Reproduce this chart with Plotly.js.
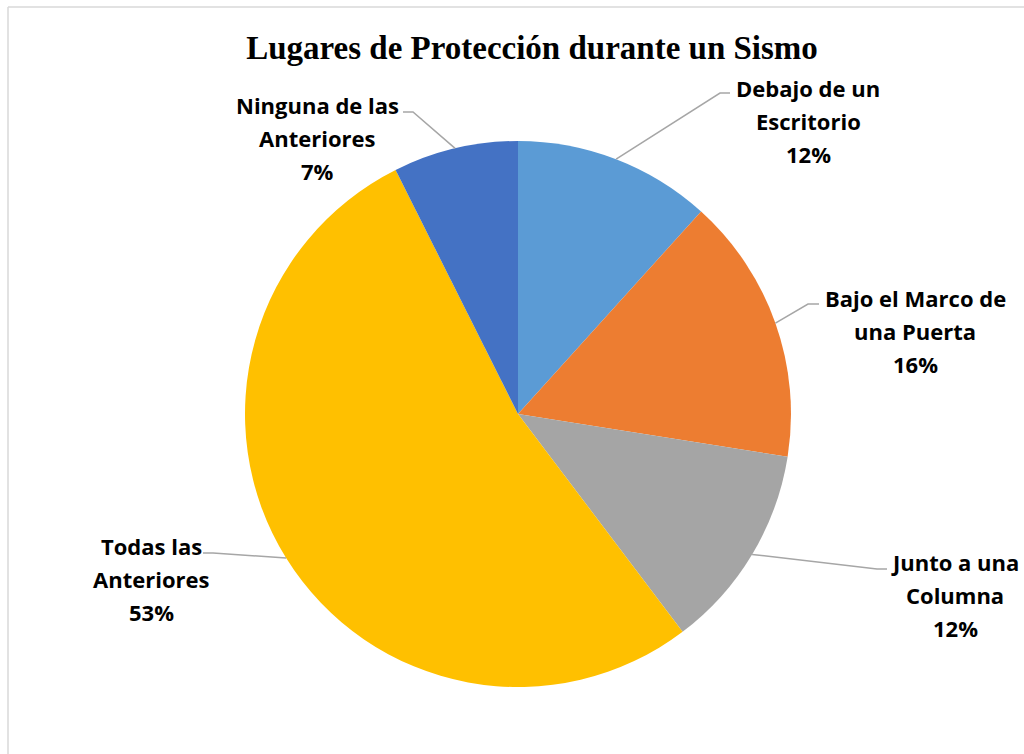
<!DOCTYPE html>
<html>
<head>
<meta charset="utf-8">
<script src="https://cdn.plot.ly/plotly-3.0.1.min.js"></script>
<style>
  html, body { margin: 0; padding: 0; background: #ffffff; }
  #chart { width: 1024px; height: 754px; }
</style>
</head>
<body>
<div id="chart"></div>
<script>
// ---- Data ----
const chartTitle = 'Lugares de Protección durante un Sismo';
const categories = [
  'Debajo de un<br>Escritorio',
  'Bajo el Marco de<br>una Puerta',
  'Junto a una<br>Columna',
  'Todas las<br>Anteriores',
  'Ninguna de las<br>Anteriores'
];
const values = [11.7, 15.8, 12.2, 52.9, 7.4];
const colors = ['#5B9BD5', '#ED7D31', '#A5A5A5', '#FFC000', '#4472C4'];

// ---- Layout constants (pixels) ----
const W = 1024, H = 754;
const CX = 518, CY = 414, R = 273;
const LINE_GAP = 33;
// label block: centre x, first line centre y, leader elbow and end points
const labelLayout = [
  { x: 808, y: 88,  elbow: [720, 93],  end: [730, 93] },
  { x: 915, y: 298, elbow: [808, 304], end: [819, 304] },
  { x: 955, y: 562, elbow: [877, 569], end: [887, 569] },
  { x: 151, y: 546, elbow: [213, 553], end: [203, 553] },
  { x: 317, y: 105, elbow: [413, 112], end: [403, 112] }
];

const px = x => x / W;
const py = y => 1 - y / H;

const total = values.reduce((a, b) => a + b, 0);
const annotations = [];
const shapes = [];
let cum = 0;
values.forEach((v, i) => {
  const mid = (cum + v / 2) / total * 2 * Math.PI;
  cum += v;
  const ax = CX + R * Math.sin(mid);
  const ay = CY - R * Math.cos(mid);
  const L = labelLayout[i];
  const lines = categories[i].split('<br>').concat([Math.round(v / total * 100) + '%']);
  lines.forEach((t, k) => {
    annotations.push({
      xref: 'paper', yref: 'paper',
      x: px(L.x), y: py(L.y + k * LINE_GAP),
      xanchor: 'center', yanchor: 'middle',
      text: '<b>' + t + '</b>', showarrow: false,
      font: { family: '"Open Sans", Lato, sans-serif', size: 22, color: '#000000' }
    });
  });
  shapes.push({
    type: 'path', xref: 'paper', yref: 'paper',
    path: 'M ' + px(ax) + ' ' + py(ay) + ' L ' + px(L.elbow[0]) + ' ' + py(L.elbow[1]) +
          ' L ' + px(L.end[0]) + ' ' + py(L.end[1]),
    line: { color: '#A6A6A6', width: 1.5 }
  });
});

// chart area border (left and top edges visible)
shapes.push({ type: 'line', xref: 'paper', yref: 'paper', x0: px(8), x1: px(8), y0: py(7), y1: py(760),
  line: { color: '#D9D9D9', width: 1.5 } });
shapes.push({ type: 'line', xref: 'paper', yref: 'paper', x0: px(8), x1: px(1030), y0: py(7), y1: py(7),
  line: { color: '#D9D9D9', width: 1.5 } });

const trace = {
  type: 'pie',
  labels: categories,
  values: values,
  sort: false,
  direction: 'clockwise',
  rotation: 0,
  marker: { colors: colors, line: { width: 0 } },
  textinfo: 'none',
  hoverinfo: 'none',
  showlegend: false,
  domain: { x: [px(CX - R), px(CX + R)], y: [py(CY + R), py(CY - R)] }
};

const layout = {
  width: W, height: H,
  margin: { l: 0, r: 0, t: 0, b: 0 },
  paper_bgcolor: '#ffffff',
  plot_bgcolor: '#ffffff',
  showlegend: false,
  title: {
    text: '<b>' + chartTitle + '</b>',
    x: px(532), y: py(47), xref: 'paper', yref: 'paper',
    xanchor: 'center', yanchor: 'middle',
    font: { family: '"Liberation Serif", "Times New Roman", serif', size: 33, color: '#000000' }
  },
  annotations: annotations,
  shapes: shapes
};

Plotly.newPlot('chart', [trace], layout, { staticPlot: true, displayModeBar: false });
</script>
</body>
</html>
